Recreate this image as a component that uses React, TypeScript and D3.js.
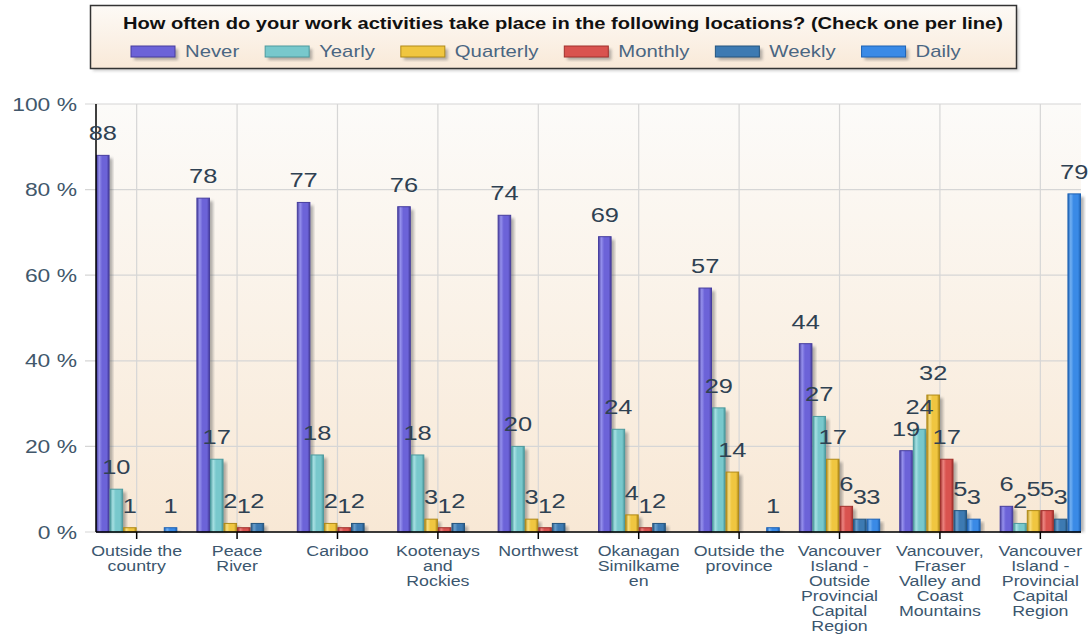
import React, { useEffect, useRef } from "react"
import * as d3 from "d3"

// chart data
const categoryLines: string[][] = [
	["Outside the", "country"],
	["Peace", "River"],
	["Cariboo"],
	["Kootenays", "and", "Rockies"],
	["Northwest"],
	["Okanagan", "Similkame", "en"],
	["Outside the", "province"],
	["Vancouver", "Island -", "Outside", "Provincial", "Capital", "Region"],
	["Vancouver,", "Fraser", "Valley and", "Coast", "Mountains"],
	["Vancouver", "Island -", "Provincial", "Capital", "Region"],
]
const categories = categoryLines.map((l) => l.join(" "))

const seriesNames = ["Never", "Yearly", "Quarterly", "Monthly", "Weekly", "Daily"]
const never = [88, 78, 77, 76, 74, 69, 57, 44, 19, 6]
const yearly = [10, 17, 18, 18, 20, 24, 29, 27, 24, 2]
const quarterly = [1, 2, 2, 3, 3, 4, 14, 17, 32, 5]
const monthly = [0, 1, 1, 1, 1, 1, 0, 6, 17, 5]
const weekly = [0, 2, 2, 2, 2, 2, 0, 3, 5, 3]
const daily = [1, 0, 0, 0, 0, 0, 1, 3, 3, 79]
const seriesValues = [never, yearly, quarterly, monthly, weekly, daily]

const yTicks = [0, 20, 40, 60, 80, 100]
const title =
	"How often do your work activities take place in the following locations? (Check one per line)"

// base / dark / light per series
const palette = [
	["#6c63d8", "#463d9e", "#9590ec"],
	["#78c8cc", "#4c9a9e", "#a6e0e2"],
	["#f0c640", "#b08a18", "#f8de80"],
	["#d9534f", "#a0302c", "#ec8480"],
	["#3d7ab2", "#25557f", "#6a9fcc"],
	["#3a8ae6", "#1d62b4", "#72b0f2"],
]

const FONT = "'Liberation Sans', Arial, sans-serif"
const STRETCH = 1.27

const App: React.FC = () => {
	const ref = useRef<SVGSVGElement>(null)

	useEffect(() => {
		document.body.style.margin = "0"
		const svg = d3.select(ref.current)
		svg.selectAll("*").remove()

		const plot = { left: 96, right: 1081, top: 104, bottom: 532 }

		const x0 = d3
			.scaleBand()
			.domain(categories)
			.range([plot.left, plot.right])
			.paddingInner(0.19)
			.paddingOuter(0)
		const x1 = d3
			.scaleBand()
			.domain(seriesNames)
			.range([0, x0.bandwidth()])
			.padding(0)
		const y = d3.scaleLinear().domain([0, 100]).range([plot.bottom, plot.top])

		const defs = svg.append("defs")
		const bg = defs
			.append("linearGradient")
			.attr("id", "plotBg")
			.attr("x1", 0)
			.attr("y1", 0)
			.attr("x2", 0)
			.attr("y2", 1)
		bg.append("stop").attr("offset", 0).attr("stop-color", "#fcfbf9")
		bg.append("stop").attr("offset", 1).attr("stop-color", "#f8e8d5")

		const lg = defs
			.append("linearGradient")
			.attr("id", "legBg")
			.attr("x1", 0)
			.attr("y1", 0)
			.attr("x2", 0)
			.attr("y2", 1)
		lg.append("stop").attr("offset", 0).attr("stop-color", "#fdfaf6")
		lg.append("stop").attr("offset", 1).attr("stop-color", "#f9e9d8")

		palette.forEach((p, i) => {
			const g = defs
				.append("linearGradient")
				.attr("id", "bar" + i)
				.attr("x1", 0)
				.attr("y1", 0)
				.attr("x2", 1)
				.attr("y2", 0)
			g.append("stop").attr("offset", 0).attr("stop-color", p[1])
			g.append("stop").attr("offset", 0.22).attr("stop-color", p[2])
			g.append("stop").attr("offset", 0.45).attr("stop-color", p[0])
			g.append("stop").attr("offset", 0.8).attr("stop-color", p[0])
			g.append("stop").attr("offset", 1).attr("stop-color", p[1])
		})

		const blur = defs.append("filter").attr("id", "shadow")
		blur.append("feGaussianBlur").attr("stdDeviation", 1.5)

		const stretchedText = (
			parent: d3.Selection<any, any, any, any>,
			x: number,
			yy: number,
			txt: string,
			size: number,
			fill: string,
			anchor: string
		) =>
			parent
				.append("text")
				.attr("transform", `translate(${x},${yy}) scale(${STRETCH},1)`)
				.attr("text-anchor", anchor)
				.attr("font-family", FONT)
				.attr("font-size", size)
				.attr("fill", fill)
				.text(txt)

		// plot background
		svg
			.append("rect")
			.attr("x", plot.left)
			.attr("y", plot.top)
			.attr("width", plot.right - plot.left)
			.attr("height", plot.bottom - plot.top)
			.attr("fill", "url(#plotBg)")

		// grid
		const grid = svg.append("g").attr("stroke", "#d6d6d6").attr("stroke-width", 1.2)
		yTicks.forEach((t) => {
			grid
				.append("line")
				.attr("x1", plot.left - 11)
				.attr("x2", plot.right)
				.attr("y1", y(t))
				.attr("y2", y(t))
		})
		categories.forEach((c) => {
			const cx = (x0(c) ?? 0) + x0.bandwidth() / 2
			grid
				.append("line")
				.attr("x1", cx)
				.attr("x2", cx)
				.attr("y1", plot.top)
				.attr("y2", plot.bottom)
		})

		// bars
		const bars = svg.append("g")
		categories.forEach((c, ci) => {
			seriesNames.forEach((s, si) => {
				const v = seriesValues[si][ci]
				if (!v) return
				const bx = (x0(c) ?? 0) + (x1(s) ?? 0)
				const bw = x1.bandwidth()
				const by = y(v)
				const bh = y(0) - y(v)
				bars
					.append("rect")
					.attr("x", bx + 3)
					.attr("y", by + 3)
					.attr("width", bw)
					.attr("height", Math.max(0, bh - 3))
					.attr("fill", "#555")
					.attr("opacity", 0.45)
					.attr("filter", "url(#shadow)")
			})
		})
		categories.forEach((c, ci) => {
			seriesNames.forEach((s, si) => {
				const v = seriesValues[si][ci]
				if (!v) return
				const bx = (x0(c) ?? 0) + (x1(s) ?? 0)
				const bw = x1.bandwidth()
				bars
					.append("rect")
					.attr("x", bx + 0.5)
					.attr("y", y(v))
					.attr("width", bw - 1)
					.attr("height", y(0) - y(v))
					.attr("fill", `url(#bar${si})`)
					.attr("stroke", palette[si][1])
					.attr("stroke-width", 1)
			})
		})

		// axes
		const axes = svg.append("g").attr("stroke", "#000").attr("stroke-width", 1.5)
		axes
			.append("line")
			.attr("x1", plot.left)
			.attr("x2", plot.left)
			.attr("y1", plot.top)
			.attr("y2", plot.bottom)
		axes
			.append("line")
			.attr("x1", plot.left)
			.attr("x2", plot.right)
			.attr("y1", plot.bottom)
			.attr("y2", plot.bottom)
		categories.forEach((c) => {
			const cx = (x0(c) ?? 0) + x0.bandwidth() / 2
			axes
				.append("line")
				.attr("x1", cx)
				.attr("x2", cx)
				.attr("y1", plot.bottom)
				.attr("y2", plot.bottom + 7)
		})

		// y tick labels
		yTicks.forEach((t) => {
			stretchedText(svg, 77, y(t) + 6.5, `${t} %`, 18, "#41576b", "end")
		})

		// x tick labels
		categoryLines.forEach((lines, ci) => {
			const cx = (x0(categories[ci]) ?? 0) + x0.bandwidth() / 2
			lines.forEach((ln, li) => {
				stretchedText(svg, cx, 556 + li * 15, ln, 14, "#3b566e", "middle")
			})
		})

		// value labels
		categories.forEach((c, ci) => {
			seriesNames.forEach((s, si) => {
				const v = seriesValues[si][ci]
				if (!v) return
				const cx = (x0(c) ?? 0) + (x1(s) ?? 0) + x1.bandwidth() / 2
				stretchedText(svg, cx, y(v) - 15, String(v), 20, "#2f4152", "middle")
			})
		})

		// legend
		const leg = svg.append("g")
		leg
			.append("rect")
			.attr("x", 93)
			.attr("y", 8)
			.attr("width", 926)
			.attr("height", 63)
			.attr("fill", "#888")
			.attr("opacity", 0.4)
			.attr("filter", "url(#shadow)")
		leg
			.append("rect")
			.attr("x", 90.5)
			.attr("y", 5.5)
			.attr("width", 926)
			.attr("height", 63)
			.attr("fill", "url(#legBg)")
			.attr("stroke", "#333")
			.attr("stroke-width", 1.5)
		leg
			.append("text")
			.attr("x", 123)
			.attr("y", 29)
			.attr("font-family", FONT)
			.attr("font-weight", "bold")
			.attr("font-size", 17)
			.attr("fill", "#111")
			.attr("textLength", 880)
			.attr("lengthAdjust", "spacingAndGlyphs")
			.text(title)

		let lx = 131
		seriesNames.forEach((s, si) => {
			leg
				.append("rect")
				.attr("x", lx + 3)
				.attr("y", 49)
				.attr("width", 44)
				.attr("height", 11)
				.attr("fill", "#555")
				.attr("opacity", 0.45)
				.attr("filter", "url(#shadow)")
			leg
				.append("rect")
				.attr("x", lx)
				.attr("y", 46)
				.attr("width", 44)
				.attr("height", 11)
				.attr("fill", palette[si][0])
				.attr("stroke", palette[si][1])
				.attr("stroke-width", 1)
			const t = stretchedText(leg, lx + 54, 57, s, 16, "#4a6682", "start")
			const w = (t.node() as SVGTextElement).getComputedTextLength() * STRETCH
			lx += 54 + w + 26
		})
	}, [])

	return <svg ref={ref} width={1090} height={635} style={{ display: "block" }} />
}

export default App
